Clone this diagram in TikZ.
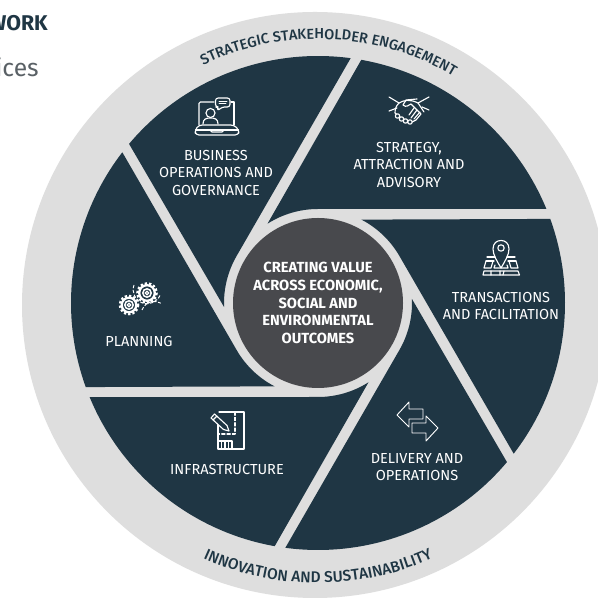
\documentclass[tikz,border=0pt]{standalone}
\usepackage{fontspec}
\setmainfont{Fira Sans}
\newfontfamily\medfont{Fira Sans Medium}
\usetikzlibrary{decorations.text}
\definecolor{navy}{HTML}{1F3644}
\definecolor{lightband}{HTML}{DEDEDE}
\definecolor{hub}{HTML}{48494D}
\definecolor{greytext}{HTML}{5A6166}
\tikzset{
  x=0.75pt,y=0.75pt,
  sector/.style={fill=navy},
  label/.style={text=white,align=center,font=\fontsize{10.9pt}{13.25pt}\selectfont,inner sep=0pt},
  hublabel/.style={text=white,align=center,font=\bfseries\fontsize{11pt}{13.25pt}\selectfont,inner sep=0pt},
  icon/.style={draw=white,line width=0.85pt,line join=round,line cap=round,fill=none},
  px/.style={shift={(0,598)},yscale=-1},
}
\begin{document}
\begin{tikzpicture}
\useasboundingbox (0,0) rectangle (598,598);
\clip (0,0) rectangle (598,598);
\fill[white] (0,0) rectangle (598,598);
\coordinate (ringc) at (315,293);
\coordinate (c) at (318,295);
\fill[lightband] (ringc) circle[radius=293];
\begin{scope}[shift={(c)}]
\foreach \k in {0,...,5}{
  \begin{scope}[rotate=\k*60]
  \fill[sector] (90:94) arc[start angle=90,end angle=122.5,radius=94] -- (79.9:247) arc[start angle=79.9,end angle=22.4,radius=247] -- cycle;
  \end{scope}
}
\end{scope}
\node[circle,fill=hub,minimum size=170*0.75pt,inner sep=0pt] (hubdisk) at (c) {};
\node[hublabel] (hubtext) at (318,295) {CREATING VALUE\\ACROSS ECONOMIC,\\SOCIAL AND\\ENVIRONMENTAL\\OUTCOMES};
\node[label] (lbusiness) at (216,425) {BUSINESS\\OPERATIONS AND\\GOVERNANCE};
\node[label] (lstrategy) at (409,433) {STRATEGY,\\ATTRACTION AND\\ADVISORY};
\node[label] (ltrans) at (501,292) {TRANSACTIONS\\AND FACILITATION};
\node[label] (lplan) at (139,257) {PLANNING};
\node[label] (linfra) at (227,129) {INFRASTRUCTURE};
\node[label] (ldeliv) at (417,131) {DELIVERY AND\\OPERATIONS};
\node[anchor=east,text=navy,font=\bfseries\fontsize{16pt}{18pt}\selectfont,inner sep=0pt] (ttl) at (48,575) {WORK};
\node[anchor=east,text=greytext,font=\fontsize{18.5pt}{22pt}\selectfont,inner sep=0pt] (sub) at (39,531) {ices};
% curved texts
\path[decorate,decoration={text along path,text align=center,text format delimiters={|}{|},
  text={|\medfont\fontsize{10.9pt}{12pt}\selectfont\color{navy}|STRATEGIC STAKEHOLDER ENGAGEMENT}}]
  ([shift={(c)}]120:264) arc[start angle=120,end angle=55,radius=264];
\path[decorate,decoration={text along path,text align=center,text format delimiters={|}{|},
  text={|\medfont\fontsize{11.6pt}{12pt}\selectfont\color{navy}|INNOVATION AND SUSTAINABILITY}}]
  ([shift={(c)}]238:280) arc[start angle=238,end angle=302,radius=280];
% icons in pixel coordinates
\begin{scope}[px]
 % laptop
 \draw[icon] (199,125) -- (199,104) [rounded corners=1] -- (199,102) -- (214,102);
 \draw[icon] (231,102) -- (234,102) -- (234,125);
 \draw[icon,rounded corners=2.5] (195.5,135) -- (238.5,135) -- (239,130) -- (234,125) -- (199,125) -- (195,130) -- cycle;
 \draw[icon] (195.5,130) -- (238.5,130);
 \draw[icon] (210,130) -- (212,132) -- (222,132) -- (224,130);
 \draw[icon,rounded corners=2] (215.5,98) -- (230,98) -- (230,107) -- (222,107) -- (217.5,111) -- (218.5,107) -- (215.5,107) -- cycle;
 \draw[icon,line width=0.6pt] (219,101) -- (227,101) (219,103.5) -- (226,103.5);
 \draw[icon] (210.5,113) circle[radius=4.5];
 \draw[icon] (203,124) .. controls (203,119) and (206,118) .. (210.5,118) .. controls (215,118) and (218,119) .. (218,124);
 % handshake
 \draw[icon] (389,97) -- (399,103) (429,97) -- (418,103);
 \draw[icon] (389,111) -- (397,108) (429,110) -- (422,107);
 \draw[icon] (399,103) .. controls (396,106) and (395,109) .. (395,113) -- (400,117);
 \draw[icon] (399,103) .. controls (404,100) and (410,99) .. (418,103) -- (424,112);
 \draw[icon] (417,99) -- (406,100) -- (403,105) .. controls (406,108) and (409,105) .. (411,104) -- (421,114) -- (416,120) -- (410,123);
 \draw[icon] (420,112) -- (414,119) (417,110) -- (411,118) (414,108) -- (409,115);
 \draw[icon,fill=navy] (397.5,116) circle[radius=2.2] (401.5,119) circle[radius=2.2] (405.5,121) circle[radius=2.2] (410,122) circle[radius=2.2];
 % map pin
 \draw[icon] (501,268) .. controls (497,261) and (493,255) .. (493,249) .. controls (493,243) and (497,240.5) .. (501,240.5) .. controls (505,240.5) and (509,243) .. (509,249) .. controls (509,255) and (505,261) .. (501,268) -- cycle;
 \draw[icon] (501,248) circle[radius=3.2];
 \draw[icon] (487,257) -- (495,257) (507,257) -- (515,257);
 \draw[icon] (486,261) -- (494,261) (508,261) -- (516,261);
 \draw[icon] (486,261) -- (484,268) -- (491,268) -- (493,261);
 \draw[icon] (516,261) -- (518,268) -- (511,268) -- (509,261);
 \draw[icon] (495,265) -- (494,268) -- (508,268) -- (507,265);
 \draw[icon] (484,271) -- (483,275) -- (519.5,275) -- (518,271) -- cycle;
 \draw[icon] (491,271) -- (491,275) (500,271) -- (500,275) (504,271) -- (503,275);
 % gears
 \foreach \gx/\gy/\gr in {147/293/9,129/305/8.5}{
   \draw[white,line width=1.7pt] (\gx,\gy) circle[radius=\gr-1.2];
   \draw[white,line width=1.8pt,dash pattern=on 1.7pt off 1.5pt] (\gx,\gy) circle[radius=\gr+0.6];
   \draw[white,line width=1.1pt] (\gx,\gy) circle[radius=4.2];
   \draw[white,line width=0.9pt] (\gx,\gy) circle[radius=1.8];
 }
 \draw[white,line width=0.7pt,dash pattern=on 2.5pt off 1.2pt] (134,285) arc[start angle=200,end angle=20,radius=14];
 \draw[white,line width=0.7pt,dash pattern=on 2.5pt off 1.2pt] (142,310) arc[start angle=20,end angle=120,radius=-13];
 % document
 \draw[icon] (218,421) -- (218,449) -- (244,449) -- (244,412) -- (219,412);
 \draw[icon,dash pattern=on 2.5pt off 1.5pt] (235,412) -- (235,434) -- (218,434);
 \draw[icon] (218,441) -- (232,441) -- (232,449);
 \draw[icon] (221.5,441) -- (221.5,449) (225,441) -- (225,449) (228.5,441) -- (228.5,449);
 \draw[icon,fill=navy] (211,418) -- (214.5,414) -- (227,425.5) -- (229,431) -- (223.5,429.5) -- cycle;
 \draw[icon] (213,420) -- (217,416);
 % arrows
 \draw[icon,line width=0.7pt] (397,415) -- (409,402) -- (409,409) -- (423,409) -- (423,419) -- (409,419) -- (409,427) -- cycle;
 \draw[icon,line width=0.7pt] (438,428) -- (426,416) -- (426,423) -- (412,423) -- (412,433) -- (426,433) -- (426,441) -- cycle;
\end{scope}
\end{tikzpicture}
\end{document}
